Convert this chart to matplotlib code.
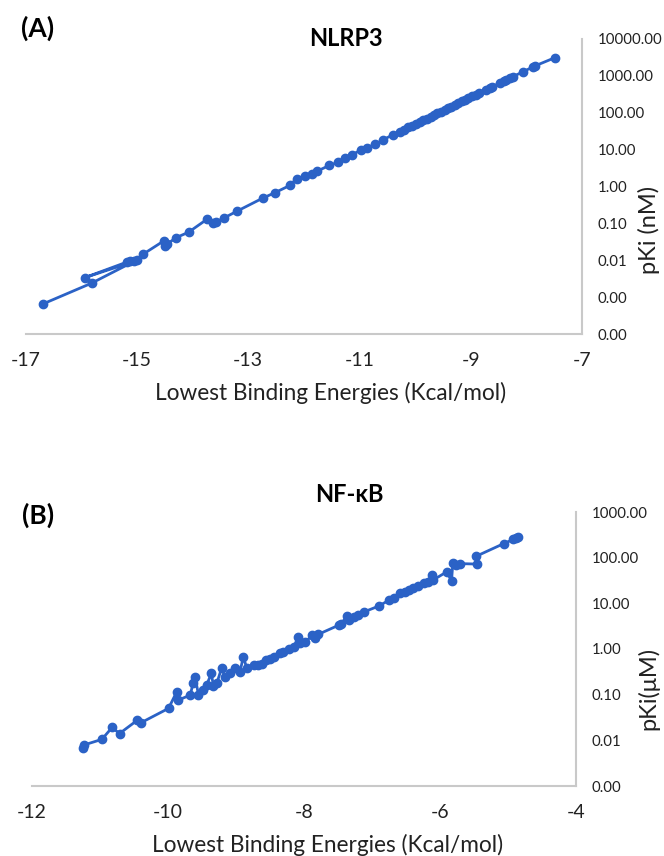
import matplotlib
matplotlib.use("Agg")
import matplotlib.pyplot as plt
from matplotlib.ticker import FixedLocator, FuncFormatter, NullLocator

plt.rcParams['font.family'] = ['Lato', 'DejaVu Sans']

# (A) NLRP3 : binding energy (kcal/mol) vs Ki (nM), in the order the line joins them
nlrp3_energy = [-16.69, -15.81, -15.05, -15.93, -15.18, -15.12, -15.00, -14.89, -14.52,
                -14.49, -14.46, -14.30, -14.07, -13.74, -13.63, -13.58, -13.43, -13.20,
                -12.73, -12.52, -12.25, -12.13, -11.98, -11.86, -11.77, -11.54, -11.38,
                -11.26, -11.14, -10.98, -10.87, -10.72, -10.57, -10.39, -10.27, -10.20,
                -10.12, -10.05, -9.98, -9.92, -9.85, -9.79, -9.72, -9.66, -9.60, -9.54,
                -9.47, -9.41, -9.35, -9.28, -9.22, -9.16, -9.10, -9.04, -8.97, -8.91,
                -8.85, -8.72, -8.66, -8.62, -8.47, -8.41, -8.36, -8.30, -8.24, -8.06,
                -7.88, -7.84, -7.49]
nlrp3_ki = [0.00065, 0.0024, 0.0093, 0.0034, 0.0089, 0.0095, 0.0102, 0.0145, 0.0331,
            0.0245, 0.0269, 0.0407, 0.0575, 0.129, 0.100, 0.108, 0.141, 0.214,
            0.49, 0.676, 1.07, 1.62, 1.91, 2.24, 2.57, 3.72, 4.57,
            6.03, 7.24, 9.55, 11.2, 13.8, 18.6, 25.7, 30.9, 34.9,
            40.0, 45.0, 50.7, 56.1, 63.1, 69.8, 78.5, 86.9, 96.2, 106,
            120, 132, 147, 165, 183, 202, 224, 248, 279, 308,
            341, 425, 470, 502, 647, 716, 780, 863, 955, 1294,
            1754, 1875, 3100]

# (B) NF-kB : binding energy (kcal/mol) vs Ki (uM)
nfkb_energy = [-11.25, -11.23, -10.97, -10.82, -10.71, -10.45, -10.39, -9.99, -9.87, -9.85,
               -9.67, -9.63, -9.60, -9.55, -9.48, -9.43, -9.36, -9.33, -9.28, -9.21,
               -9.16, -9.09, -9.01, -8.94, -8.89, -8.84, -8.74, -8.68, -8.62, -8.55,
               -8.50, -8.44, -8.35, -8.30, -8.22, -8.15, -8.08, -8.06, -7.98, -7.88,
               -7.83, -7.79, -7.49, -7.45, -7.37, -7.33, -7.27, -7.20, -7.12, -6.90,
               -6.75, -6.68, -6.59, -6.52, -6.45, -6.39, -6.33, -6.24, -6.18, -6.12,
               -6.10, -5.90, -5.83, -5.81, -5.76, -5.71, -5.45, -5.47, -5.06, -4.92,
               -4.88, -4.85]
nfkb_ki = [0.00668, 0.00794, 0.0105, 0.0191, 0.0141, 0.0275, 0.0245, 0.0501, 0.115, 0.0759,
           0.0977, 0.178, 0.245, 0.100, 0.126, 0.162, 0.295, 0.151, 0.178, 0.380,
           0.245, 0.295, 0.380, 0.316, 0.676, 0.380, 0.447, 0.437, 0.479, 0.575,
           0.589, 0.661, 0.83, 0.871, 0.977, 1.12, 1.86, 1.32, 1.41, 2.00,
           1.78, 2.09, 3.31, 3.55, 5.25, 4.27, 5.01, 5.50, 6.46, 8.71,
           11.7, 13.2, 16.6, 17.4, 19.5, 21.4, 23.4, 27.5, 29.5, 41.7,
           32.4, 49.0, 30.9, 77.6, 69.2, 74.1, 72.4, 107, 204, 251,
           269, 288]

nlrp3_xticks = [-17, -15, -13, -11, -9, -7]
nlrp3_yticks = [0.0001, 0.001, 0.01, 0.1, 1, 10, 100, 1000, 10000]
nfkb_xticks = [-12, -10, -8, -6, -4]
nfkb_yticks = [0.001, 0.01, 0.1, 1, 10, 100, 1000]

blue = '#2b62c6'
grey = '#c9c9c9'


def draw_panel(ax, x, y, xticks, yticks):
    ax.plot(x, y, '-o', color=blue, lw=2.0, ms=6)
    ax.set_yscale('log')
    ax.set_xlim(xticks[0], xticks[-1])
    ax.set_ylim(yticks[0], yticks[-1])
    ax.yaxis.tick_right()
    ax.yaxis.set_major_locator(FixedLocator(yticks))
    ax.yaxis.set_minor_locator(NullLocator())
    ax.yaxis.set_major_formatter(FuncFormatter(lambda v, p: f"{v:.2f}"))
    ax.set_xticks(xticks)
    ax.set_xticklabels([str(t) for t in xticks])
    for s in ['top', 'left']:
        ax.spines[s].set_visible(False)
    for s in ['bottom', 'right']:
        ax.spines[s].set_color(grey)
        ax.spines[s].set_linewidth(1.5)
    ax.tick_params(axis='x', length=0, pad=13, labelsize=14, colors='#222222')
    ax.tick_params(axis='y', length=0, pad=11, labelsize=10.8, colors='#222222')
    ax.set_facecolor('none')


fig = plt.figure(figsize=(6.64, 8.56), dpi=100)
W, H = 664, 856

axA = fig.add_axes([25.5 / W, 1 - 334 / H, (582 - 25.5) / W, (334 - 39) / H])
draw_panel(axA, nlrp3_energy, nlrp3_ki, nlrp3_xticks, nlrp3_yticks)

axB = fig.add_axes([31.8 / W, 1 - 786 / H, (576 - 31.8) / W, (786 - 512) / H])
draw_panel(axB, nfkb_energy, nfkb_ki, nfkb_xticks, nfkb_yticks)

xlab = 'Lowest Binding Energies (Kcal/mol)'
fig.text(346 / W, 1 - 39 / H, 'NLRP3', ha='center', va='center', fontsize=17, fontweight='bold')
fig.text(38 / W, 1 - 28 / H, '(A)', ha='center', va='center', fontsize=19, fontweight='bold')
fig.text(331 / W, 1 - 393 / H, xlab, ha='center', va='center', fontsize=16.3, color='#222222')
fig.text(649 / W, 1 - 230 / H, 'pKi (nM)', ha='center', va='center', rotation=90,
         fontsize=17, color='#222222')

fig.text(349 / W, 1 - 495 / H, 'NF-κB', ha='center', va='center', fontsize=17, fontweight='bold')
fig.text(38 / W, 1 - 515 / H, '(B)', ha='center', va='center', fontsize=19, fontweight='bold')
fig.text(328 / W, 1 - 845 / H, xlab, ha='center', va='center', fontsize=16.3, color='#222222')
fig.text(648 / W, 1 - 688 / H, 'pKi(μM)', ha='center', va='center', rotation=90,
         fontsize=17, color='#222222')

fig.savefig('out.png', dpi=100, facecolor='white')
